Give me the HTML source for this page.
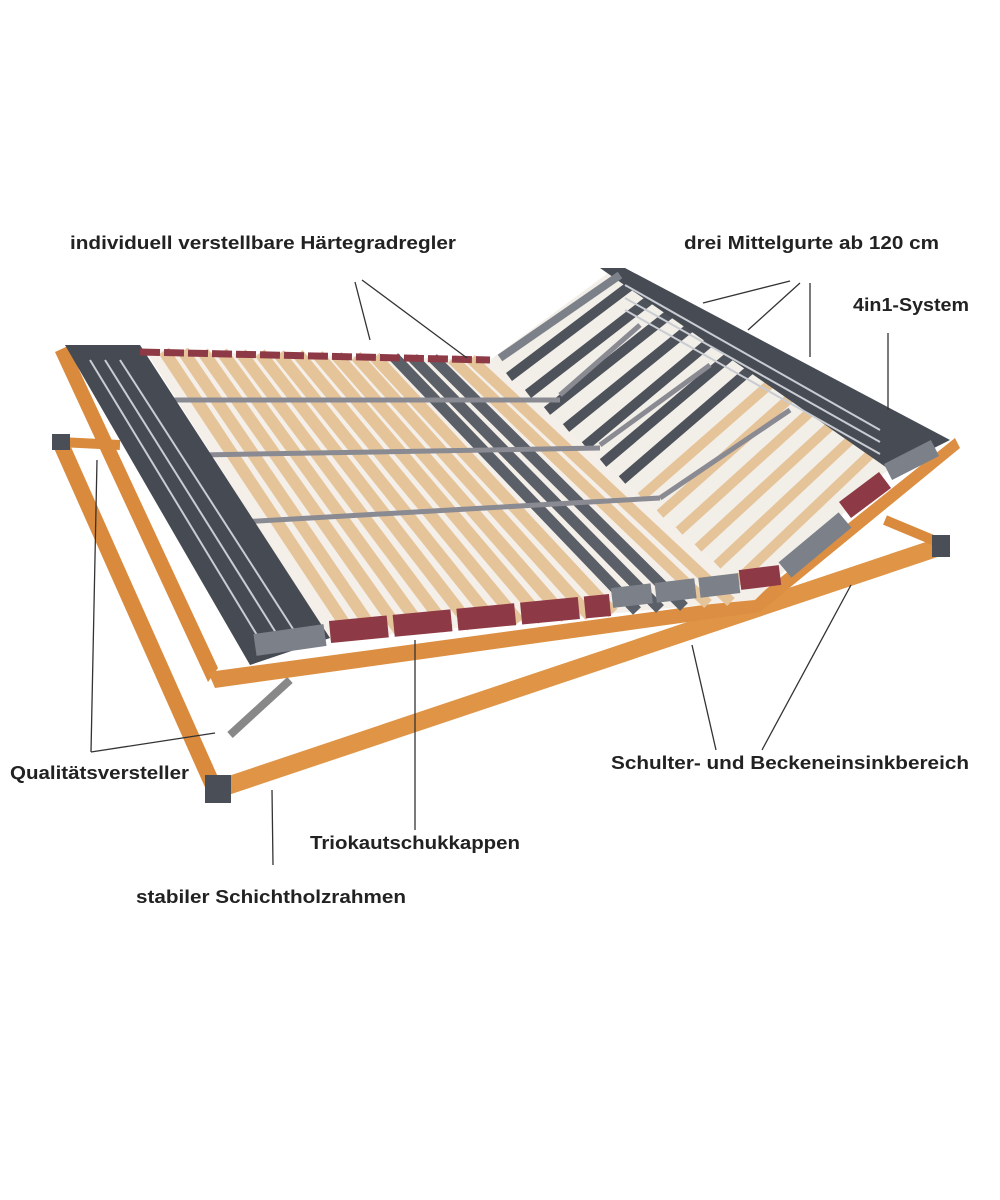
<!DOCTYPE html>
<html><head><meta charset="utf-8"><style>
html,body{margin:0;padding:0;background:#fff;width:1000px;height:1200px;overflow:hidden}
text{font-family:"Liberation Sans Narrow","Liberation Sans",sans-serif;font-weight:bold;font-size:18px;fill:#222}
</style></head><body>
<svg width="1000" height="1200" viewBox="0 0 1000 1200" xmlns="http://www.w3.org/2000/svg">
<!-- lower frame -->
<line x1="60" y1="442" x2="215" y2="790" stroke="#d98a3c" stroke-width="16"/>
<line x1="215" y1="790" x2="945" y2="545" stroke="#e09445" stroke-width="18"/>
<line x1="60" y1="442" x2="120" y2="445" stroke="#d98a3c" stroke-width="10"/>
<line x1="945" y1="545" x2="885" y2="520" stroke="#d98a3c" stroke-width="10"/>
<line x1="230" y1="735" x2="290" y2="680" stroke="#888" stroke-width="8"/>
<rect x="205" y="775" width="26" height="28" fill="#4a4e56"/>
<rect x="932" y="535" width="18" height="22" fill="#4a4e56"/>
<rect x="52" y="434" width="18" height="16" fill="#4a4e56"/>
<!-- upper frame wood -->
<polygon points="55,352 68,346 218,668 208,682" fill="#d98a3c"/>
<polygon points="208,672 755,598 955,438 960,448 760,612 215,688" fill="#dc8f42"/>
<!-- slat area background -->
<polygon points="145,350 490,360 755,600 330,640" fill="#f4efe8"/>
<polygon points="490,360 615,268 900,458 755,600" fill="#f2eee8"/>
<g stroke="#e6c49a" stroke-width="12">
<line x1="164" y1="351" x2="354" y2="638"/><line x1="183" y1="351" x2="377" y2="636"/>
<line x1="203" y1="352" x2="401" y2="633"/><line x1="222" y1="352" x2="424" y2="631"/>
<line x1="241" y1="353" x2="448" y2="629"/><line x1="260" y1="353" x2="472" y2="627"/>
<line x1="279" y1="354" x2="495" y2="624"/><line x1="298" y1="354" x2="519" y2="622"/>
<line x1="318" y1="355" x2="543" y2="620"/><line x1="337" y1="356" x2="566" y2="618"/>
<line x1="356" y1="356" x2="590" y2="616"/><line x1="375" y1="357" x2="613" y2="613"/>
</g>
<g stroke="#5a5f68" stroke-width="11">
<line x1="394" y1="357" x2="637" y2="611"/><line x1="413" y1="358" x2="660" y2="609"/>
<line x1="433" y1="358" x2="684" y2="607"/>
</g>
<g stroke="#e6c49a" stroke-width="11">
<line x1="452" y1="359" x2="708" y2="604"/><line x1="471" y1="359" x2="731" y2="602"/>
</g>
<g stroke="#4d525b" stroke-width="10">
<line x1="509" y1="377" x2="635" y2="282"/><line x1="528" y1="394" x2="656" y2="295"/>
<line x1="547" y1="411" x2="676" y2="309"/><line x1="566" y1="428" x2="697" y2="322"/>
<line x1="585" y1="446" x2="717" y2="336"/><line x1="603" y1="463" x2="737" y2="350"/>
<line x1="622" y1="480" x2="758" y2="363"/>
</g>
<g stroke="#e6c49a" stroke-width="10">
<line x1="641" y1="497" x2="778" y2="377"/><line x1="660" y1="514" x2="799" y2="390"/>
<line x1="679" y1="531" x2="819" y2="404"/><line x1="698" y1="548" x2="839" y2="418"/>
<line x1="717" y1="565" x2="860" y2="431"/><line x1="736" y1="582" x2="880" y2="445"/>
</g>
<!-- center straps -->
<g stroke="#8a8a92" stroke-width="5">
<line x1="160" y1="400" x2="560" y2="400"/><line x1="200" y1="455" x2="600" y2="448"/>
<line x1="240" y1="522" x2="660" y2="498"/>
<line x1="560" y1="395" x2="640" y2="325"/><line x1="600" y1="445" x2="710" y2="365"/><line x1="660" y1="498" x2="790" y2="410"/>
</g>
<!-- dark side panels -->
<polygon points="65,345 140,345 330,638 250,665" fill="#454a53"/>
<g stroke="#c9ccd2" stroke-width="2"><line x1="90" y1="360" x2="260" y2="640"/><line x1="105" y1="360" x2="278" y2="636"/><line x1="120" y1="360" x2="295" y2="632"/></g>
<polygon points="600,268 625,268 950,440 890,470" fill="#464b54"/>
<g stroke="#c9ccd2" stroke-width="2"><line x1="625" y1="285" x2="880" y2="430"/><line x1="625" y1="298" x2="880" y2="442"/><line x1="625" y1="310" x2="880" y2="454"/></g>
<!-- caps -->
<line x1="255" y1="645" x2="325" y2="635" stroke="#7b8089" stroke-width="22"/>
<line x1="330" y1="632" x2="610" y2="605" stroke="#8e3a46" stroke-width="22" stroke-dasharray="58,6"/>
<line x1="612" y1="598" x2="740" y2="583" stroke="#7b8089" stroke-width="20" stroke-dasharray="40,4"/>
<line x1="740" y1="580" x2="780" y2="575" stroke="#8e3a46" stroke-width="20"/>
<line x1="785" y1="570" x2="845" y2="520" stroke="#7b8089" stroke-width="20"/>
<line x1="845" y1="510" x2="885" y2="480" stroke="#8e3a46" stroke-width="20"/>
<line x1="888" y1="472" x2="935" y2="448" stroke="#7b8089" stroke-width="18"/>
<line x1="140" y1="352" x2="490" y2="360" stroke="#8e3a46" stroke-width="7" stroke-dasharray="20,4"/>
<line x1="500" y1="358" x2="620" y2="275" stroke="#7b8089" stroke-width="8"/>
<!-- connectors -->
<g stroke="#333" stroke-width="1.3" fill="none">
<line x1="355" y1="282" x2="370" y2="340"/><line x1="362" y1="280" x2="467" y2="358"/>
<line x1="790" y1="281" x2="703" y2="303"/><line x1="800" y1="283" x2="748" y2="330"/><line x1="810" y1="283" x2="810" y2="357"/>
<line x1="888" y1="333" x2="888" y2="410"/>
<line x1="97" y1="460" x2="91" y2="752"/><line x1="91" y1="752" x2="215" y2="733"/>
<line x1="692" y1="645" x2="716" y2="750"/><line x1="851" y1="585" x2="762" y2="750"/>
<line x1="415" y1="640" x2="415" y2="830"/>
<line x1="272" y1="790" x2="273" y2="865"/>
</g>
<!-- labels -->
<text x="70" y="249" textLength="386" lengthAdjust="spacingAndGlyphs">individuell verstellbare Härtegradregler</text>
<text x="684" y="249" textLength="255" lengthAdjust="spacingAndGlyphs">drei Mittelgurte ab 120 cm</text>
<text x="853" y="311" textLength="116" lengthAdjust="spacingAndGlyphs">4in1-System</text>
<text x="10" y="779" textLength="179" lengthAdjust="spacingAndGlyphs">Qualitätsversteller</text>
<text x="611" y="769" textLength="358" lengthAdjust="spacingAndGlyphs">Schulter- und Beckeneinsinkbereich</text>
<text x="310" y="849" textLength="210" lengthAdjust="spacingAndGlyphs">Triokautschukkappen</text>
<text x="136" y="903" textLength="270" lengthAdjust="spacingAndGlyphs">stabiler Schichtholzrahmen</text>
</svg>
</body></html>
